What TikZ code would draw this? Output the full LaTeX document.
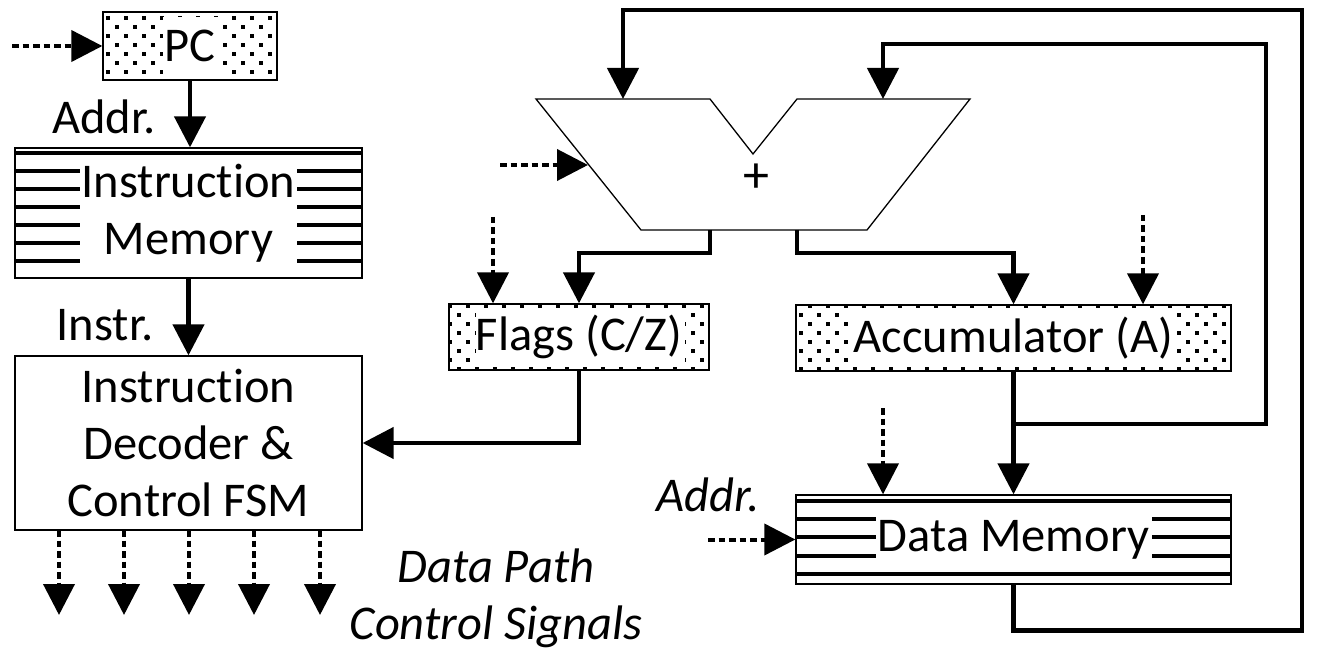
\documentclass[tikz,border=0pt]{standalone}
\usepackage{fontspec}
\setmainfont{Carlito}[RawFeature={-liga;-clig}]
\usetikzlibrary{arrows.meta,calc}
\newcommand\bigfont{\fontsize{48.5}{57}\selectfont}
\newcommand\instr{Instruct\kern0pt ion}
\newcommand\dotarea[4]{%
  \begin{scope}
  \clip (#1,#2) rectangle (#3,#4);
  \pgfmathtruncatemacro\dia{#1/9}%
  \pgfmathtruncatemacro\dib{#3/9+1}%
  \pgfmathtruncatemacro\dja{#2/9}%
  \pgfmathtruncatemacro\djb{#4/9+1}%
  \foreach \i in {\dia,...,\dib}{%
    \foreach \j in {\dja,...,\djb}{%
      \pgfmathtruncatemacro\dodd{mod(\i+\j,2)}%
      \ifnum\dodd=0 \fill (9*\i-1.7,9*\j-1.7) rectangle ++(3.4,3.4);\fi
    }}
  \end{scope}}
\tikzset{
 wire/.style={line width=4.5pt, -{Triangle[length=31pt,width=31pt]}},
 ctl/.style={wire, line width=4pt, dash pattern=on 6.5pt off 4pt},
 box/.style={draw, line width=1.3pt, inner sep=0pt, align=center, font=\bigfont},
 stripe/.style={line width=3.6pt},
 lbl/.style={inner sep=0pt, font=\bigfont},
}
\begin{document}
\begin{tikzpicture}[x=1pt,y=-1pt]
\useasboundingbox (0,0) rectangle (1324,652);
\fill[white] (0,0) rectangle (1324,652);

% PC
\dotarea{103}{12}{277}{80}
\fill[white] (163,17) rectangle (218,75);
\node[box, minimum width=174pt, minimum height=68pt] (pc) at (190,46) {PC};

% Instruction memory
\draw[stripe] (15,153) -- (362,153);
\foreach \y in {171,189,207,225,243,261}{\draw[stripe] (15,\y) -- (80,\y); \draw[stripe] (297,\y) -- (362,\y);}
\node[box, minimum width=347pt, minimum height=130pt] (imem) at (188.5,213) {\instr\\Memory};

% Decoder
\node[box, minimum width=347pt, minimum height=174pt] (dec) at (188.5,443) {\instr\\Decoder \&\\Control FSM};

% Flags
\dotarea{449}{304}{709}{370}
\fill[white] (476,309) rectangle (685,366);
\node[box, minimum width=260pt, minimum height=66pt] (flags) at (579,337) {Flags (C/Z)};

% Accumulator
\dotarea{796}{305}{1231}{371}
\fill[white] (851,309) rectangle (1175,367);
\node[box, minimum width=435pt, minimum height=66pt] (acc) at (1013.5,338) {Accumulator (A)};

% Data memory
\draw[stripe] (796,501) -- (1231,501);
\draw[stripe] (796,574) -- (1231,574);
\foreach \y in {519,537,556}{\draw[stripe] (796,\y) -- (876,\y); \draw[stripe] (1152,\y) -- (1231,\y);}
\node[box, minimum width=435pt, minimum height=89pt] (dm) at (1013.5,539.5) {Data Memory};

% ALU
\draw[line width=1.3pt] (536,99) -- (710,99) -- (753,154) -- (797,99) -- (970,99) -- (867,230) -- (641,230) -- cycle;
\node[inner sep=0pt, font=\fontsize{52}{60}\selectfont] (plus) at (756,178) {+};
\coordinate (aluinA) at (623,99);
\coordinate (aluinB) at (883,99);
\coordinate (aluctl) at (588,165);
\coordinate (aluoutF) at (710,230);
\coordinate (aluoutA) at (797,230);

% labels
\node[lbl] (addrI) at (104,117) {Addr.};
\node[lbl] (instrL) at (105,325) {Instr.};
\node[lbl, font=\bigfont\itshape] (addrD) at (708,495) {Addr.};
\node[lbl, font=\bigfont\itshape, align=center] (dpcs) at (496,598) {Data Path\\Control Signals};

% control inputs (dotted)
\coordinate (pcsrc) at (12,46);
\draw[ctl] (pcsrc) -- (pc.west);
\coordinate (alusrc) at (500,165);
\draw[ctl] (alusrc) -- (aluctl);
\coordinate (flagsrc) at (493,217);
\draw[ctl] (flagsrc) -- (flagsrc |- flags.north);
\coordinate (accsrc) at (1143,215);
\draw[ctl] (accsrc) -- (accsrc |- acc.north);
\coordinate (dmsrc) at (883,408);
\draw[ctl] (dmsrc) -- (dmsrc |- dm.north);
\coordinate (dmaddr) at (708,539.5);
\draw[ctl] (dmaddr) -- (dm.west);

% control outputs
\foreach \x [count=\k] in {59,124,189,254,320}{
  \coordinate (cs\k) at (\x,530);
  \coordinate (ce\k) at (\x,615);
  \draw[ctl] (cs\k) -- (ce\k);
}

% data wires
\draw[wire] (pc.south) -- (pc.south |- imem.north);
\draw[wire] (imem.south) -- (dec.north);
\draw[wire] (flags.south) |- (dec.east);
\draw[wire] (aluoutF) -- ++(0,23) -| (flags.north);
\draw[wire] (aluoutA) -- ++(0,23) -| (acc.north);
\draw[wire] (acc.south) -- (dm.north);
\coordinate (br) at (1013.5,424);
\draw[wire] (br) -| (1266,44) -| (aluinB);
\draw[wire] (dm.south) -- ++(0,46) -| (1302,10) -| (aluinA);
\end{tikzpicture}
\end{document}
